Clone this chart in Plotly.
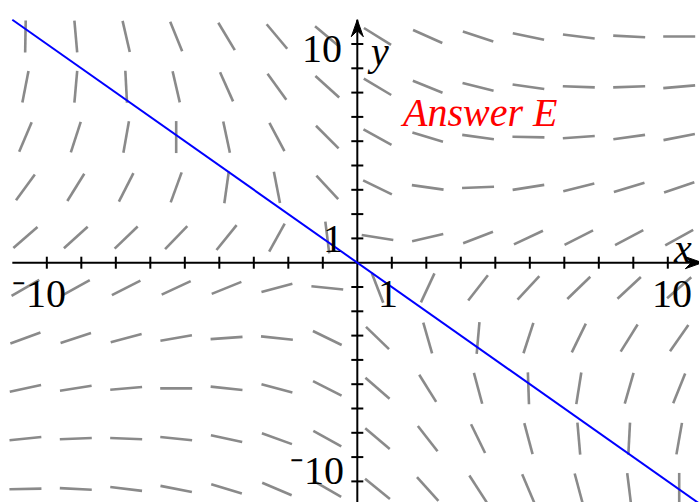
import math
import plotly.graph_objects as go

# ---- figure geometry ----
W, H = 699, 502
X_RANGE = [-10.357, 9.904]
Y_RANGE = [-9.848, 10.811]

# ---- direction field sample points ----
field_x = [-9.62, -8.16, -6.70, -5.25, -3.79, -2.33, -0.87, 0.585, 2.04, 3.50, 4.96, 6.42, 7.88, 9.33]
field_y = [9.31, 7.24, 5.17, 3.10, 1.035, -1.035, -3.10, -5.17, -7.24, -9.31]

# on-screen angle (degrees) of each direction dash, one list per row of field_y
field_angle = [
    [89, -85, -77, -68, -59, -50, -40, -32, -24, -18, -12, -7, -3, 0],
    [79, 85, -87, -77, -66, -54, -42, -31, -22, -14, -8, -2, 2, 5],
    [67, 72, 80, 90, -78, -62, -45, -29, -17, -8, -1, 4, 8, 11],
    [54, 58, 63, 70, 82, -79, -47, -26, -8, 2, 9, 14, 17, 19],
    [41, 42, 44, 46, 51, 61, -83, -9, 13, 21, 25, 27, 28, 29],
    [30, 29, 27, 25, 22, 15, -6, -69, 65, 52, 47, 44, 43, 41],
    [20, 18, 15, 10, 4, -6, -26, -44, -74, 85, 72, 64, 58, 55],
    [12, 9, 5, 0, -6, -15, -27, -41, -58, -75, -88, 81, 74, 68],
    [6, 2, -2, -6, -12, -20, -29, -40, -52, -64, -75, -85, 87, 80],
    [1, -3, -7, -11, -17, -23, -30, -39, -48, -57, -67, -75, -83, 90],
]

# ---- solution curve ----
sol_x = [-10, 10]
sol_y = [10, -10]

# ---- axes ----
axis_end = 10
x_ticks = [-9, -8, -7, -6, -5, -4, -3, -2, -1, 1, 2, 3, 4, 5, 6, 7, 8, 9]
y_ticks = [-9, -8, -7, -6, -5, -4, -3, -2, -1, 1, 2, 3, 4, 5, 6, 7, 8, 9]
x_labels = {-10: "⁻10", 1: "1", 10: "10"}
y_labels = {-10: "⁻10", 1: "1", 10: "10"}

# pixels per data unit
sx = W / (X_RANGE[1] - X_RANGE[0])
sy = H / (Y_RANGE[1] - Y_RANGE[0])


def px(v):
    # data x -> paper fraction (may fall outside 0..1)
    return (v - X_RANGE[0]) / (X_RANGE[1] - X_RANGE[0])


def py(v):
    # data y -> paper fraction (may fall outside 0..1)
    return (v - Y_RANGE[0]) / (Y_RANGE[1] - Y_RANGE[0])


DASH_PX = 32
TICK_PX = 6

fig = go.Figure()

# direction dashes
dx_all, dy_all = [], []
half = DASH_PX / 2
for yr, row in zip(field_y, field_angle):
    for xc, ang in zip(field_x, row):
        a = math.radians(ang)
        ox = half * math.cos(a) / sx
        oy = half * math.sin(a) / sy
        dx_all += [xc - ox, xc + ox, None]
        dy_all += [yr - oy, yr + oy, None]
fig.add_trace(go.Scatter(x=dx_all, y=dy_all, mode="lines",
                         line=dict(color="#8a8a8a", width=2.6),
                         hoverinfo="skip", showlegend=False))

# axis lines with tick marks
ax_x = [-axis_end, axis_end, None, 0, 0]
ax_y = [0, 0, None, -axis_end, axis_end]
for t in x_ticks:
    ax_x += [None, t, t]
    ax_y += [None, -TICK_PX / sy, TICK_PX / sy]
for t in y_ticks:
    ax_x += [None, -TICK_PX / sx, TICK_PX / sx]
    ax_y += [None, t, t]
fig.add_trace(go.Scatter(x=ax_x, y=ax_y, mode="lines",
                         line=dict(color="black", width=2),
                         hoverinfo="skip", showlegend=False))

# solution line
fig.add_trace(go.Scatter(x=sol_x, y=sol_y, mode="lines",
                         line=dict(color="#0000ff", width=2),
                         hoverinfo="skip", showlegend=False))


def arrow_path(tx, ty, direction):
    # barbed arrowhead, sizes in pixels
    L, Wb, N = 17, 6, 11
    if direction == "up":
        pts = [(0, 0), (-Wb, -L), (0, -N), (Wb, -L)]
    else:
        pts = [(0, 0), (-L, Wb), (-N, 0), (-L, -Wb)]
    coords = [(tx + ax / sx, ty + ay / sy) for ax, ay in pts]
    return "M " + " L ".join(f"{cx},{cy}" for cx, cy in coords) + " Z"


shapes = [
    dict(type="path", path=arrow_path(0, axis_end, "up"), xref="x", yref="y",
         fillcolor="black", line=dict(color="black", width=1)),
    dict(type="path", path=arrow_path(axis_end, 0, "right"), xref="x", yref="y",
         fillcolor="black", line=dict(color="black", width=1)),
]

serif = "Liberation Serif"
label_font = dict(family=serif, size=40, color="black")
centered = dict(xref="paper", yref="paper", xanchor="center", yanchor="middle", showarrow=False)
annotations = []
x_shift = {-10: (27, -31), 1: (-4, -31), 10: (-30, -31)}
for v, txt in x_labels.items():
    xs, ys = x_shift[v]
    annotations.append(dict(x=px(v), y=py(0), text=txt, xshift=xs, yshift=ys,
                            font=label_font, **centered))
y_shift = {-10: (-40, 35), 1: (-24, 0), 10: (-35, -29)}
for v, txt in y_labels.items():
    xs, ys = y_shift[v]
    annotations.append(dict(x=px(0), y=py(v), text=txt, xshift=xs, yshift=ys,
                            font=label_font, **centered))
annotations.append(dict(x=px(axis_end), y=py(0), text="<i>x</i>", xshift=-20, yshift=14,
                        font=label_font, **centered))
annotations.append(dict(x=px(0), y=py(axis_end), text="<i>y</i>", xshift=21, yshift=-32,
                        font=label_font, **centered))
annotations.append(dict(x=3.5, y=6.2, text="<i>Answer E</i>", showarrow=False,
                        xanchor="center", yanchor="middle",
                        font=dict(family=serif, size=40, color="#ff0000")))

fig.update_layout(
    width=W, height=H,
    margin=dict(l=0, r=0, t=0, b=0),
    paper_bgcolor="white", plot_bgcolor="white",
    xaxis=dict(range=X_RANGE, visible=False, fixedrange=True),
    yaxis=dict(range=Y_RANGE, visible=False, fixedrange=True),
    shapes=shapes,
    annotations=annotations,
    showlegend=False,
)

fig.write_html("out.html")
